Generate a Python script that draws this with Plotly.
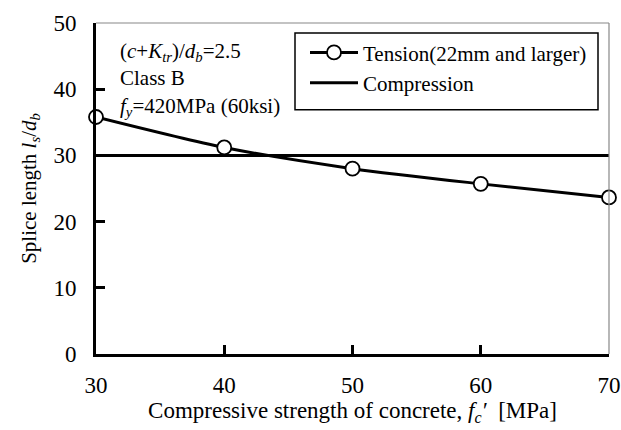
import plotly.graph_objects as go

# Data
fc = [30, 40, 50, 60, 70]                      # MPa
tension_ls_db = [35.8, 31.2, 28.0, 25.7, 23.65]
compression_x = [30, 70]
compression_ls_db = [30, 30]

x_ticks = [30, 40, 50, 60, 70]
y_ticks = [0, 10, 20, 30, 40, 50]

FONT = "Liberation Serif"

fig = go.Figure()
fig.add_trace(go.Scatter(
    x=fc, y=tension_ls_db, mode="lines+markers",
    name="Tension(22mm and larger)",
    line=dict(color="black", width=3, shape="spline", smoothing=0.8),
    marker=dict(symbol="circle", size=14, color="white",
                line=dict(color="black", width=1.8)),
    cliponaxis=False,
))
fig.add_trace(go.Scatter(
    x=compression_x, y=compression_ls_db, mode="lines",
    name="Compression",
    line=dict(color="black", width=3),
))

fig.update_layout(
    width=621, height=430,
    margin=dict(l=96, r=12, t=23, b=75.5, autoexpand=False),
    paper_bgcolor="white", plot_bgcolor="white",
    font=dict(family=FONT, color="black", size=20),
    showlegend=True,
    legend=dict(
        x=(305 - 96) / 513, y=0.972, xanchor="left", yanchor="top",
        bgcolor="rgba(0,0,0,0)", borderwidth=0,
        font=dict(family=FONT, size=21, color="black"),
        itemwidth=48, tracegroupgap=0,
    ),
    xaxis=dict(
        range=[30, 70], tickvals=x_ticks, ticktext=[str(v) for v in x_ticks],
        showgrid=False, zeroline=False, automargin=False,
        showline=True, linecolor="black", linewidth=3,
        ticks="inside", ticklen=9, tickwidth=3, tickcolor="black",
        tickfont=dict(family=FONT, size=23), ticklabelstandoff=8,
        title=dict(text="Compressive strength of concrete, <i>f</i><sub><i>c</i></sub><i>′</i>  [MPa]",
                   font=dict(family=FONT, size=23), standoff=6),
    ),
    yaxis=dict(
        range=[0, 50], tickvals=y_ticks, ticktext=[str(v) for v in y_ticks],
        showgrid=False, zeroline=False, automargin=False,
        showline=True, linecolor="black", linewidth=3,
        ticks="inside", ticklen=9, tickwidth=3, tickcolor="black",
        tickfont=dict(family=FONT, size=23), ticklabelstandoff=12,
        title=dict(text="Splice length <i>l</i><sub><i>s</i></sub>/<i>d</i><sub><i>b</i></sub>",
                   font=dict(family=FONT, size=21), standoff=12),
    ),
)

# thin gray top/right frame
fig.add_shape(type="line", xref="paper", yref="paper", x0=0, x1=1, y0=1, y1=1,
              line=dict(color="#888888", width=1.2))
fig.add_shape(type="line", xref="paper", yref="paper", x0=1, x1=1, y0=0, y1=1,
              line=dict(color="#888888", width=1.2))
# legend box
fig.add_shape(type="rect", xref="paper", yref="paper",
              x0=(295 - 96) / 513, x1=(598 - 96) / 513,
              y0=1 - (110 - 23) / 331.5, y1=1 - (33 - 23) / 331.5,
              line=dict(color="black", width=1.5), fillcolor="rgba(0,0,0,0)")

fig.add_annotation(
    xref="paper", yref="paper", x=(118 - 96) / 513, y=1 - (37 - 23) / 331.5,
    xanchor="left", yanchor="top", align="left", showarrow=False,
    text="(<i>c</i>+<i>K</i><sub><i>tr</i></sub>)/<i>d</i><sub><i>b</i></sub>=2.5<br>"
         "Class B<br><i>f</i><sub><i>y</i></sub>=420MPa (60ksi)",
    font=dict(family=FONT, size=21, color="black"),
)

fig.write_html("out.html", config={"displayModeBar": False},
               post_script="document.body.style.margin='0px';")
